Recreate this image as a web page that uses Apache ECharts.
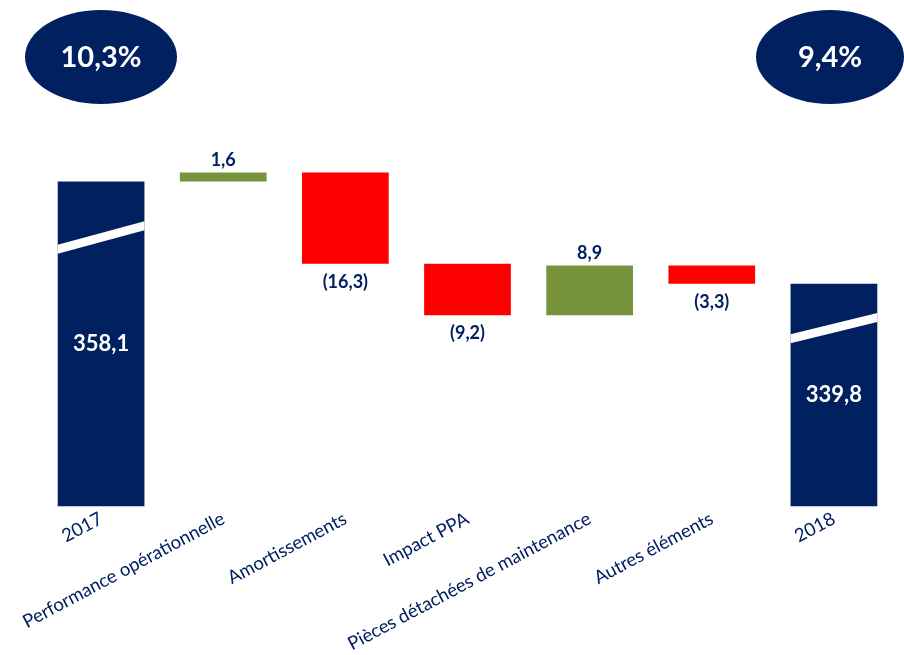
<!DOCTYPE html>
<html><head><meta charset="utf-8">
<script src="https://cdn.jsdelivr.net/npm/echarts@6/dist/echarts.min.js"></script>
<style>html,body{margin:0;padding:0;background:#fff}#c{width:904px;height:655px}</style>
</head><body><div id="c"></div>
<script>
const categories = ['2017','Performance opérationnelle','Amortissements','Impact PPA','Pièces détachées de maintenance','Autres éléments','2018'];
const values = [358.1, 1.6, -16.3, -9.2, 8.9, -3.3, 339.8];
const isTotal = [true, false, false, false, false, false, true];
const ratioLabels = ['10,3%', '9,4%'];
// break marks: [category index, value at left edge, value at right edge]
const breakMarks = [[0, 346.0, 350.2], [6, 330.0, 333.8]];

const NAVY = '#002060', GREEN = '#77933C', RED = '#FF0000';
const fmt = v => { const s = Math.abs(v).toFixed(1).replace('.', ','); return v < 0 ? '(' + s + ')' : s; };

const base = [], body = [];
let run = 0;
values.forEach((v, i) => {
  if (isTotal[i]) { base.push(0); body.push({value: v, itemStyle: {color: NAVY}, label: {show: true, position: 'inside', color: '#fff', fontSize: 22, formatter: fmt(v)}}); run = v; }
  else {
    const lo = Math.min(run, run + v);
    base.push(lo);
    body.push({value: Math.abs(v), itemStyle: {color: v >= 0 ? GREEN : RED}, label: {show: true, position: v >= 0 ? 'top' : 'bottom', color: NAVY, fontSize: 18, distance: v >= 0 ? 3 : 9, formatter: fmt(v)}});
    run += v;
  }
});

const chart = echarts.init(document.getElementById('c'), null, {renderer: 'canvas'});
chart.setOption({
  animation: false,
  textStyle: {fontFamily: 'Lato, "Open Sans", sans-serif'},
  grid: {left: 40, right: 9, top: 115, bottom: 148, containLabel: false},
  xAxis: {type: 'category', data: categories, axisLine: {show: false}, axisTick: {show: false},
    axisLabel: {rotate: 28, interval: 0, color: NAVY, fontSize: 18.5, margin: 11, fontFamily: 'Lato, sans-serif'}},
  yAxis: {type: 'value', min: 300, max: 370, show: false, splitLine: {show: false}},
  series: [
    {type: 'bar', stack: 'w', data: base, itemStyle: {color: 'transparent'}, barWidth: '71%', silent: true},
    {type: 'bar', stack: 'w', data: body, barWidth: '71%', label: {fontWeight: 'bold', fontFamily: 'Lato, sans-serif'}},
    {type: 'custom', data: breakMarks, z: 10, silent: true,
      renderItem: (params, api) => {
        const i = api.value(0);
        const w = api.size([1, 0])[0] * 0.71;
        const l = api.coord([i, api.value(1)]);
        const r = api.coord([i, api.value(2)]);
        const x0 = l[0] - w / 2, x1 = l[0] + w / 2, h = 4.5;
        return {type: 'polygon', shape: {points: [[x0, l[1] - h], [x1, r[1] - h], [x1, r[1] + h], [x0, l[1] + h]]}, style: {fill: '#fff'}};
      }}
  ],
  graphic: [
    {type: 'ellipse', shape: {cx: 101, cy: 57, rx: 76, ry: 47}, style: {fill: NAVY}},
    {type: 'text', x: 101, y: 58, style: {text: ratioLabels[0], fill: '#fff', font: 'bold 29px Lato, sans-serif', align: 'center', verticalAlign: 'middle'}},
    {type: 'ellipse', shape: {cx: 830, cy: 57, rx: 74, ry: 47}, style: {fill: NAVY}},
    {type: 'text', x: 830, y: 58, style: {text: ratioLabels[1], fill: '#fff', font: 'bold 29px Lato, sans-serif', align: 'center', verticalAlign: 'middle'}}
  ]
});
</script></body></html>
